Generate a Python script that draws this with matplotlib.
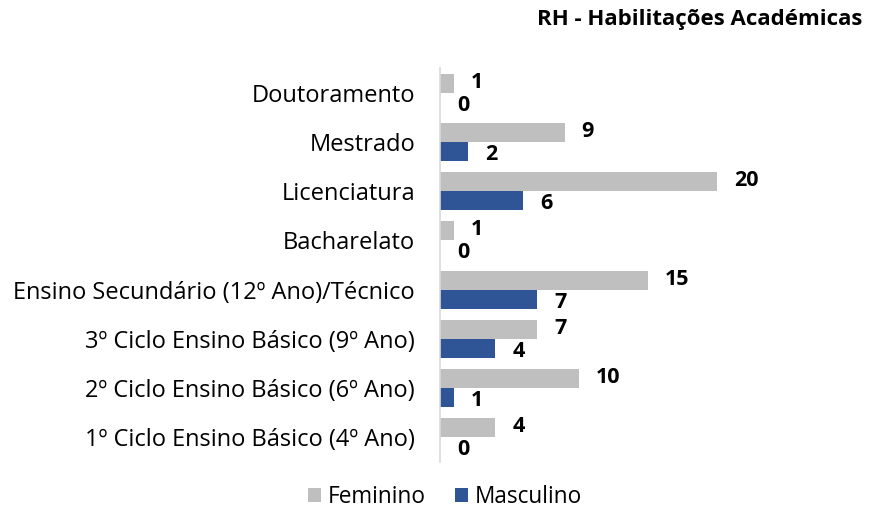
import matplotlib
matplotlib.use("Agg")
import matplotlib.pyplot as plt
import numpy as np

plt.rcParams['font.family'] = ['Open Sans', 'DejaVu Sans']

categories = ["Doutoramento", "Mestrado", "Licenciatura", "Bacharelato",
              "Ensino Secundário (12º Ano)/Técnico",
              "3º Ciclo Ensino Básico (9º Ano)",
              "2º Ciclo Ensino Básico (6º Ano)",
              "1º Ciclo Ensino Básico (4º Ano)"]
feminino = [1, 9, 20, 1, 15, 7, 10, 4]
masculino = [0, 2, 6, 0, 7, 4, 1, 0]
title = "RH - Habilitações Académicas"

c_f = "#BFBFBF"
c_m = "#2F5597"

fig = plt.figure(figsize=(8.73, 5.15), dpi=100)
ax = fig.add_axes([440/873, 1-462/515, 25*13.85/873, 394/515])

n = len(categories)
y = np.arange(n)[::-1]
h = 0.386
bf = ax.barh(y + h/2, feminino, height=h, color=c_f, label="Feminino")
bm = ax.barh(y - h/2, masculino, height=h, color=c_m, label="Masculino")

off = 17/13.85
for yi, v in zip(y, feminino):
    ax.text(v + off, yi + h/2 + 0.02, str(v), ha='left', va='center',
            fontsize=15.5, fontweight='bold', color='black')
for yi, v in zip(y, masculino):
    ax.text(v + off, yi - h/2 - 0.06, str(v), ha='left', va='center',
            fontsize=15.5, fontweight='bold', color='black')

ax.set_xlim(0, 25)
ax.set_ylim(-0.5, n - 0.5)
ax.set_yticks(y)
ax.set_yticklabels(categories, fontsize=17)
ax.tick_params(axis='y', length=0, pad=18)
ax.set_xticks([])
for s in ['top', 'right', 'bottom']:
    ax.spines[s].set_visible(False)
ax.spines['left'].set_color('#D9D9D9')
ax.spines['left'].set_linewidth(1.2)

fig.text(862/873, 1-20/515, title, ha='right', va='center',
         fontsize=16, fontweight='bold')

fig.legend(handles=[bf, bm], loc='center', bbox_to_anchor=(445/873, 1-497/515),
           ncol=2, frameon=False, fontsize=16.3, handlelength=0.55,
           handleheight=0.55, handletextpad=0.3, columnspacing=1.3)

fig.savefig("out.png", dpi=100)
